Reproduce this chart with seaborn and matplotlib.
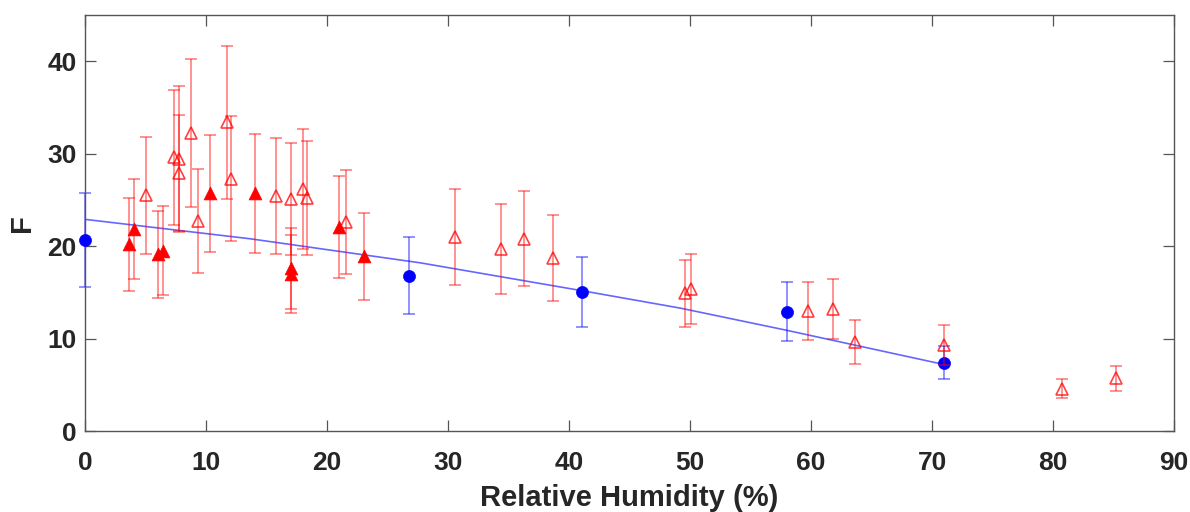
import matplotlib
matplotlib.use("Agg")
import matplotlib.pyplot as plt
import seaborn as sns

# open triangles (red)
open_x = [5.07, 7.39, 7.78, 7.78, 8.74, 9.37, 11.77, 12.05, 15.77, 17.0, 18.0, 18.33,
          21.56, 30.57, 34.4, 36.3, 38.65, 49.6, 50.07, 59.75, 61.84, 63.6, 71.0, 80.7, 85.2]
open_y = [25.5, 29.6, 29.4, 27.9, 32.2, 22.7, 33.4, 27.3, 25.4, 25.1, 26.2, 25.2,
          22.6, 21.0, 19.7, 20.8, 18.7, 14.9, 15.35, 13.0, 13.2, 9.65, 9.3, 4.6, 5.7]
open_err = [6.3, 7.3, 7.9, 6.3, 8.0, 5.6, 8.3, 6.75, 6.3, 6.1, 6.5, 6.2,
            5.6, 5.2, 4.85, 5.15, 4.65, 3.65, 3.8, 3.15, 3.2, 2.4, 2.2, 1.05, 1.35]

# filled triangles (red)
fill_x = [3.67, 4.08, 6.04, 6.48, 10.3, 14.09, 17.0, 17.0, 21.03, 23.07]
fill_y = [20.2, 21.9, 19.1, 19.5, 25.7, 25.7, 17.6, 17.0, 22.1, 18.9]
fill_err = [5.0, 5.4, 4.7, 4.8, 6.3, 6.4, 4.4, 4.2, 5.5, 4.7]

# blue circles
blue_x = [0.0, 26.8, 41.05, 58.0, 71.0]
blue_y = [20.7, 16.8, 15.06, 12.9, 7.4]
blue_err = [5.1, 4.15, 3.75, 3.2, 1.8]

# fitted curve
fit_x = [0, 13.65, 27.7, 41.0, 49.2, 58.0, 71.0]
fit_y = [22.9, 20.8, 18.2, 15.2, 13.3, 10.9, 7.2]

sns.set_theme(style="white")
plt.rcParams['font.family'] = ['Liberation Sans', 'DejaVu Sans']

fig = plt.figure(figsize=(11.9, 5.12), dpi=100)
ax = fig.add_axes([0.0714, 0.158, 0.9152, 0.8127])

red_soft = (1, 0, 0, 0.5)
blue_soft = (0, 0, 1, 0.5)

# blue points + fit
ax.errorbar(blue_x, blue_y, yerr=blue_err, fmt='none', ecolor=blue_soft,
            elinewidth=1.2, capsize=4, capthick=1.2, clip_on=False, zorder=2)
sns.lineplot(x=fit_x, y=fit_y, ax=ax, color=(0, 0, 1, 0.6), linewidth=1.2,
             sort=False, zorder=2)
sns.scatterplot(x=blue_x, y=blue_y, ax=ax, color='blue', marker='o', s=75,
                edgecolor='blue', linewidth=0.5, clip_on=False, zorder=3)

# red triangles
ax.errorbar(open_x, open_y, yerr=open_err, fmt='none', ecolor=red_soft,
            elinewidth=1.2, capsize=4, capthick=1.2, zorder=4)
ax.errorbar(fill_x, fill_y, yerr=fill_err, fmt='none', ecolor=red_soft,
            elinewidth=1.2, capsize=4, capthick=1.2, zorder=4)
ax.plot(open_x, open_y, linestyle='none', marker='^', markersize=9,
        markerfacecolor='none', markeredgecolor=(1, 0, 0, 0.75),
        markeredgewidth=1.2, zorder=5)
sns.scatterplot(x=fill_x, y=fill_y, ax=ax, color='red', marker='^', s=85,
                edgecolor='red', linewidth=0.5, zorder=5)

ax.set_xlim(0, 90)
ax.set_ylim(0, 45)
ax.set_xticks(range(0, 91, 10))
ax.set_yticks(range(0, 41, 10))

for s in ax.spines.values():
    s.set_visible(True)
    s.set_color('#555555')
    s.set_linewidth(1.0)

ax.tick_params(direction='in', length=8, width=0.9, color='#555555',
               top=True, right=True, bottom=True, left=True,
               labelsize=19, labelcolor='#262626')
ax.tick_params(axis='x', pad=14)
ax.tick_params(axis='y', pad=6)
for lab in ax.get_xticklabels() + ax.get_yticklabels():
    lab.set_fontweight('bold')

ax.set_xlabel('Relative Humidity (%)', fontsize=21, fontweight='bold',
              color='#262626', labelpad=7)
ax.set_ylabel('F', fontsize=21, fontweight='bold', color='#262626', labelpad=8)

fig.savefig('out.png', dpi=100)
